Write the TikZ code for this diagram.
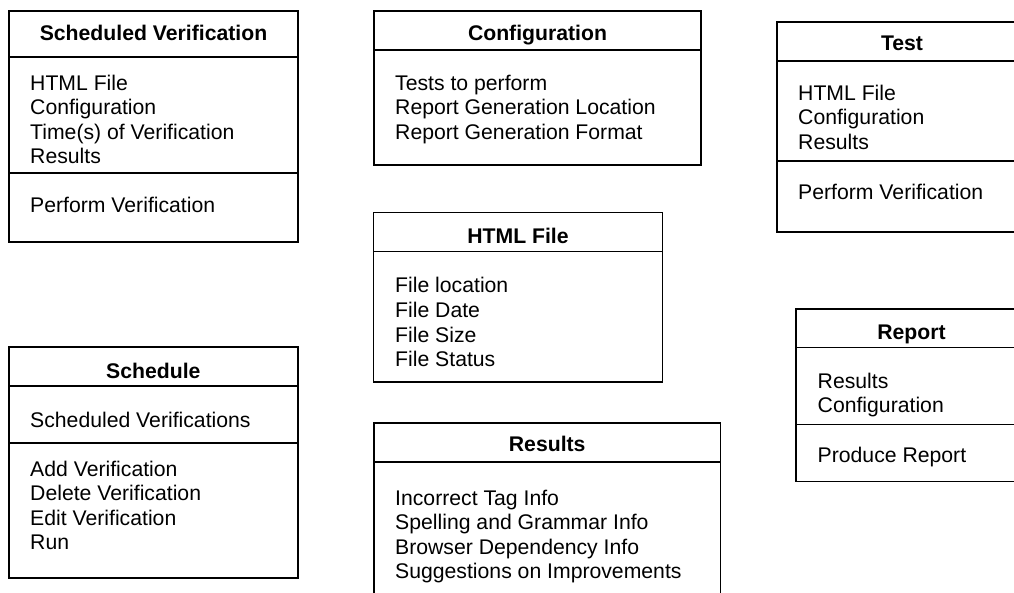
\documentclass[tikz,border=0pt]{standalone}
\usepackage{fontspec}
\setmainfont{Liberation Sans}
\begin{document}
\begin{tikzpicture}[x=1pt,y=-1pt,
  boxline/.style={draw=black,line width=1.7pt},
  ttl/.style={anchor=base,inner sep=0pt,font=\fontsize{21.2}{24.5}\selectfont\bfseries},
  itm/.style={anchor=base west,inner sep=0pt,font=\fontsize{21.2}{24.5}\selectfont}]
\useasboundingbox (0,0) rectangle (1014,593);
\begin{scope}
\clip (0,0) rectangle (1014,593);
% Scheduled Verification
\draw[boxline] (9,11) rectangle (298,241.7);
\draw[boxline] (9,57) -- (298,57);
\draw[boxline] (9,172.7) -- (298,172.7);
\node[ttl] (svt) at (153.5,40.5) {Scheduled Verification};
\node[itm] (sv1) at (30,90.5) {HTML File};
\node[itm] (sv2) at (30,115) {Configuration};
\node[itm] (sv3) at (30,139.5) {Time(s) of Verification};
\node[itm] (sv4) at (30,164) {Results};
\node[itm] (sv5) at (30,213) {Perform Verification};
% Configuration
\draw[boxline] (374,11) rectangle (701,164.7);
\draw[boxline] (374,50) -- (701,50);
\node[ttl] (cft) at (537.5,40.5) {Configuration};
\node[itm] (cf1) at (395,90.5) {Tests to perform};
\node[itm] (cf2) at (395,115) {Report Generation Location};
\node[itm] (cf3) at (395,139.5) {Report Generation Format};
% HTML File
\draw[boxline] (373.5,212.5) rectangle (662.5,382);
\draw[boxline] (373.5,251.5) -- (662.5,251.5);
\node[ttl] (hft) at (518,243.5) {HTML File};
\node[itm] (hf1) at (395,293) {File location};
\node[itm] (hf2) at (395,317.5) {File Date};
\node[itm] (hf3) at (395,342) {File Size};
\node[itm] (hf4) at (395,366.5) {File Status};
% Test
\draw[boxline] (777,21.7) rectangle (1027,232.3);
\draw[boxline] (777,61) -- (1027,61);
\draw[boxline] (777,160.7) -- (1027,160.7);
\node[ttl] (tst) at (902,50.8) {Test};
\node[itm] (ts1) at (798,100.5) {HTML File};
\node[itm] (ts2) at (798,125) {Configuration};
\node[itm] (ts3) at (798,149.5) {Results};
\node[itm] (ts4) at (798,199.5) {Perform Verification};
% Report
\draw[boxline] (796,309.3) rectangle (1027,481.5);
\draw[boxline] (796,347.5) -- (1027,347.5);
\draw[boxline] (796,424.5) -- (1027,424.5);
\node[ttl] (rpt) at (911.5,340) {Report};
\node[itm] (rp1) at (817.5,388) {Results};
\node[itm] (rp2) at (817.5,412.5) {Configuration};
\node[itm] (rp3) at (817.5,462.5) {Produce Report};
% Schedule
\draw[boxline] (9,347.3) rectangle (297.7,578.3);
\draw[boxline] (9,385.7) -- (297.7,385.7);
\draw[boxline] (9,443.3) -- (297.7,443.3);
\node[ttl] (sct) at (153.3,378.5) {Schedule};
\node[itm] (sc1) at (30,427) {Scheduled Verifications};
\node[itm] (sc2) at (30,476) {Add Verification};
\node[itm] (sc3) at (30,500.5) {Delete Verification};
\node[itm] (sc4) at (30,525) {Edit Verification};
\node[itm] (sc5) at (30,549.5) {Run};
% Results
\draw[boxline] (374,423.3) rectangle (720.5,610);
\draw[boxline] (374,462.3) -- (720.5,462.3);
\node[ttl] (rst) at (547.2,451) {Results};
\node[itm] (rs1) at (395,505) {Incorrect Tag Info};
\node[itm] (rs2) at (395,529.5) {Spelling and Grammar Info};
\node[itm] (rs3) at (395,554) {Browser Dependency Info};
\node[itm] (rs4) at (395,578.5) {Suggestions on Improvements};
\end{scope}
\end{tikzpicture}
\end{document}
